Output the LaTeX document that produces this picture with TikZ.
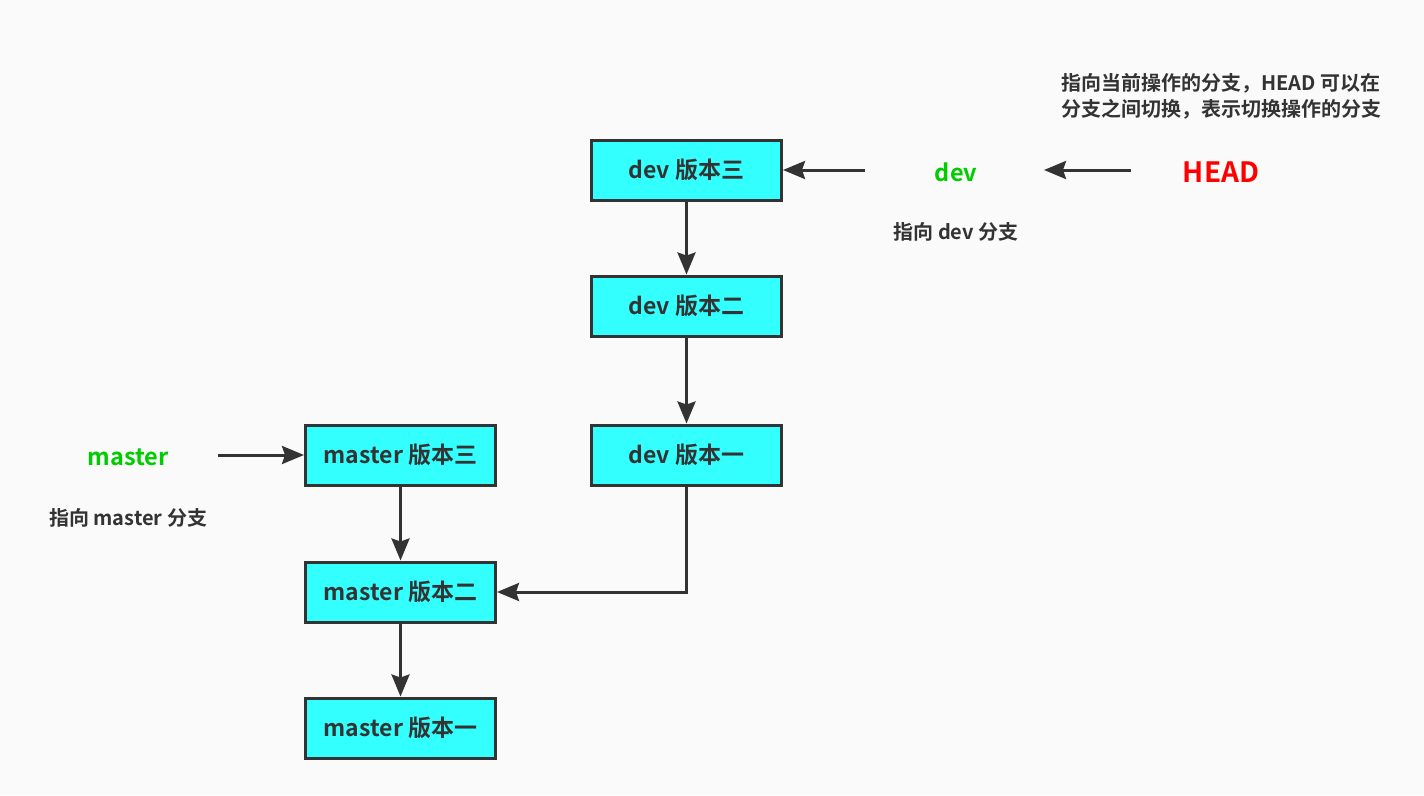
\documentclass[tikz,border=0pt]{standalone}
\usepackage{fontspec}
\setmainfont{Noto Sans CJK SC}[BoldFont={* Bold}]
\usetikzlibrary{arrows.meta}
\definecolor{bg}{HTML}{FAFAFA}
\definecolor{boxfill}{HTML}{33FFFF}
\definecolor{ink}{HTML}{333333}
\definecolor{grn}{HTML}{00CC00}
\definecolor{headred}{HTML}{FF0000}
\tikzset{
  ver/.style={draw=ink, line width=3pt, fill=boxfill, minimum width=190pt, minimum height=60pt,
    inner sep=0pt, font=\fontsize{23}{26}\selectfont\bfseries, text=ink},
  conn/.style={draw=ink, line width=3pt, -{Stealth[length=22pt,width=18pt,inset=3pt]}},
  lbl/.style={font=\fontsize{23.5}{26}\selectfont\bfseries, text=grn, inner sep=0pt},
  note/.style={font=\fontsize{20}{26}\selectfont\bfseries, text=ink, inner sep=0pt, align=center},
}
\begin{document}
\begin{tikzpicture}[x=1pt,y=-1pt]
\useasboundingbox (0,0) rectangle (1424,795);
\fill[bg] (0,0) rectangle (1424,795);
\node[ver] (d3) at (686.5,170) {dev 版本三};
\node[ver] (d2) at (686.5,306) {dev 版本二};
\node[ver] (d1) at (686.5,455) {dev 版本一};
\node[ver] (m3) at (400.5,455) {master 版本三};
\node[ver] (m2) at (400.5,592) {master 版本二};
\node[ver] (m1) at (400.5,728) {master 版本一};
\node[lbl] (dev) at (956,172) {dev};
\node[lbl, text=headred, font=\fontsize{28}{30}\selectfont\bfseries] (head) at (1221,172) {HEAD};
\node[lbl] (master) at (128,457) {master};
\node[note] (devnote) at (956,232) {指向 dev 分支};
\node[note] (masternote) at (128,518) {指向 master 分支};
\node[note] (headnote) at (1221,96) {指向当前操作的分支，HEAD 可以在\\分支之间切换，表示切换操作的分支};
\coordinate (devtail) at (865,170);
\coordinate (headtail) at (1131,170);
\coordinate (devtip) at (1044,170);
\coordinate (mastertail) at (218,455);
\draw[conn] (devtail) -- (d3.east);
\draw[conn] (headtail) -- (devtip);
\draw[conn] (mastertail) -- (m3.west);
\draw[conn] (d3) -- (d2);
\draw[conn] (d2) -- (d1);
\draw[conn] (m3) -- (m2);
\draw[conn] (m2) -- (m1);
\draw[conn] (d1.south) |- (m2.east);
\end{tikzpicture}
\end{document}
